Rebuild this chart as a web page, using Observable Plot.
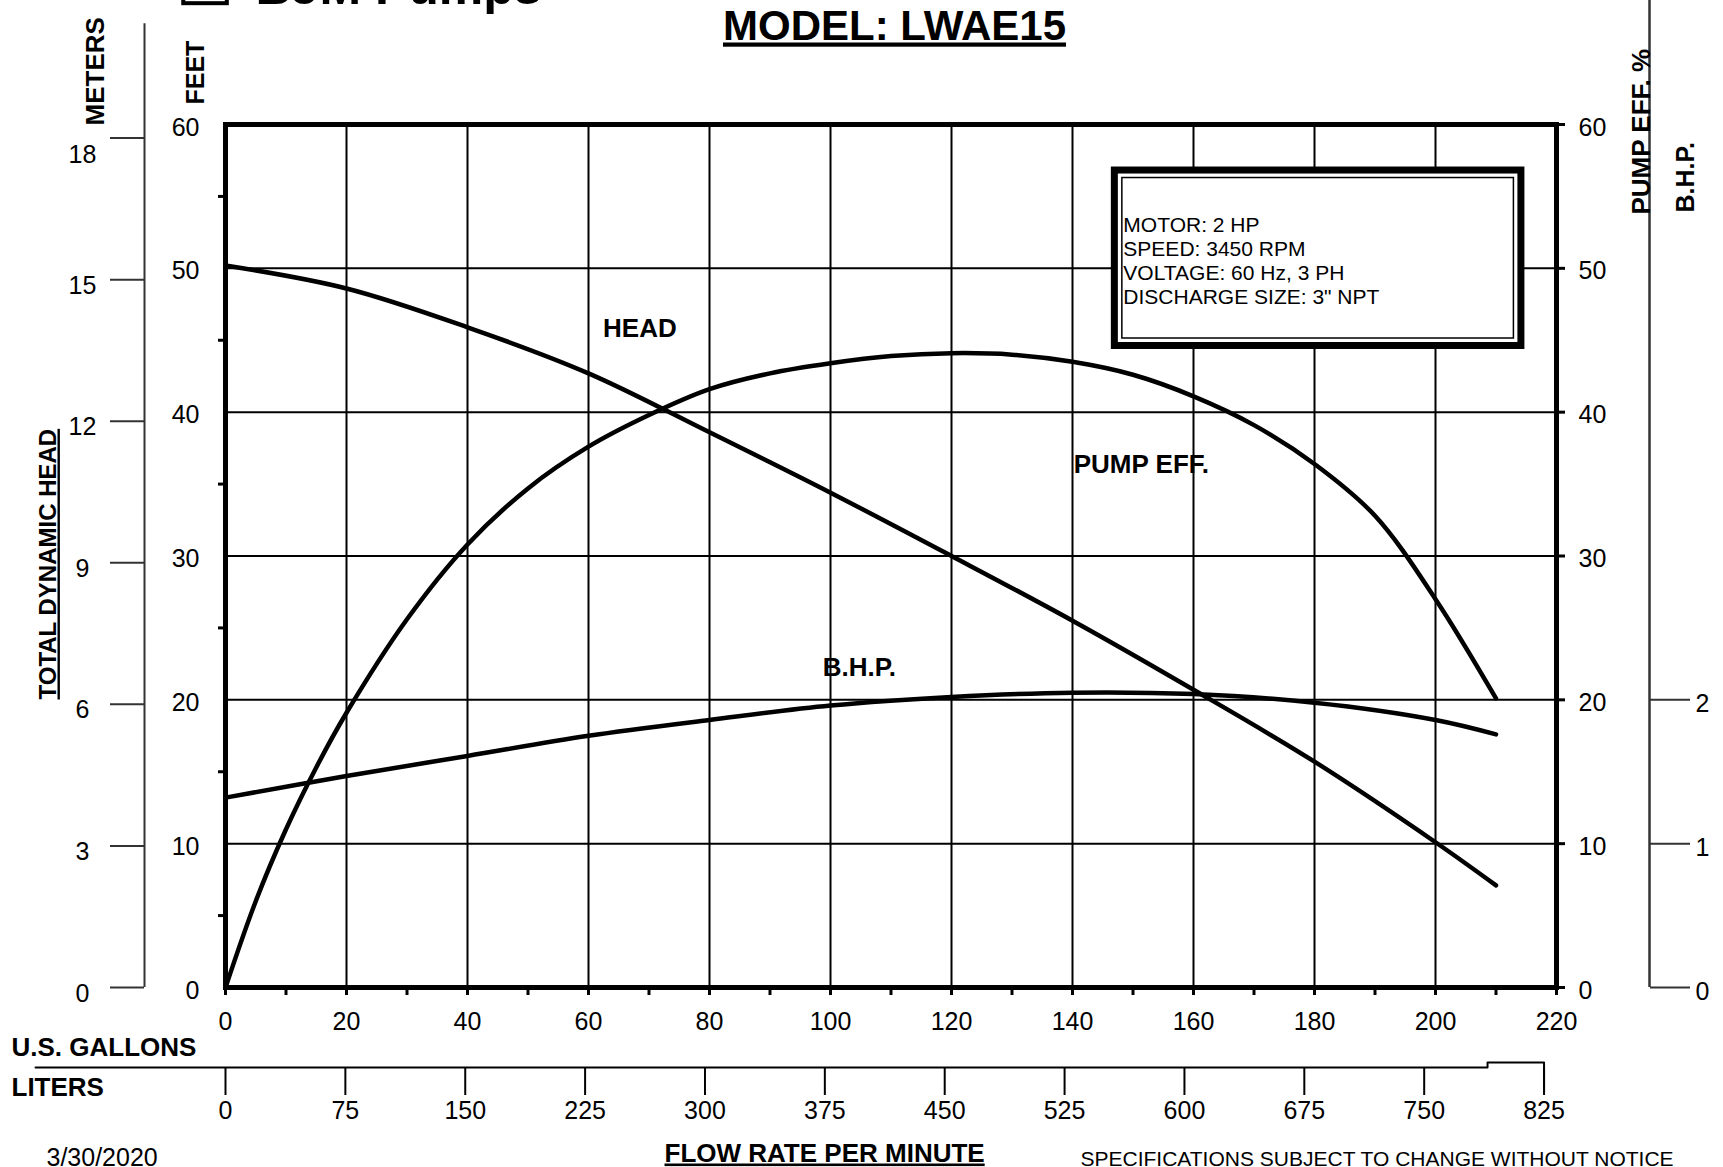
<!DOCTYPE html>
<html><head><meta charset="utf-8">
<script src="https://cdn.jsdelivr.net/npm/d3@7"></script>
<script src="https://cdn.jsdelivr.net/npm/@observablehq/plot@0.6"></script>
<style>
html,body{margin:0;padding:0;background:#fff;}
#chart svg{display:block;}
</style></head><body><div id="chart"></div>
<script>
// ---------- data ----------
const FT_PER_M = 3.28084;
const L_PER_GAL = 3.78541;

const xTicks = [0, 20, 40, 60, 80, 100, 120, 140, 160, 180, 200, 220];
const xMinorTicks = [0, 10, 20, 30, 40, 50, 60, 70, 80, 90, 100, 110, 120, 130, 140, 150, 160, 170, 180, 190, 200, 210, 220];
const yTicks = [0, 10, 20, 30, 40, 50, 60];
const yMinorTicks = [5, 15, 25, 35, 45, 55];
const meterTicks = [0, 3, 6, 9, 12, 15, 18];
const literTicks = [0, 75, 150, 225, 300, 375, 450, 525, 600, 675, 750, 825];
const bhpTicks = [0, 1, 2];
const gridXValues = [20, 40, 60, 80, 100, 120, 140, 160, 180, 200];
const gridYValues = [10, 20, 30, 40, 50];

// HEAD (feet) vs flow (US gpm)
const headFlow = [0, 20, 40, 60, 80, 100, 120, 140, 160, 180, 200, 210];
const headFeet = [50.2, 48.6, 45.9, 42.7, 38.6, 34.4, 30.0, 25.5, 20.7, 15.7, 10.1, 7.1];

// PUMP EFF. (%) vs flow
const effFlow = [0, 5, 10, 15, 20, 30, 40, 50, 60, 70, 80, 90, 100, 110, 120, 130, 140, 150, 160, 170, 180, 190, 200, 210];
const effPct  = [0, 6.0, 11.0, 15.3, 19.1, 25.6, 30.8, 34.7, 37.6, 39.8, 41.6, 42.7, 43.4, 43.9, 44.1, 44.0, 43.5, 42.6, 41.1, 39.1, 36.4, 32.8, 27.0, 20.1];

// B.H.P. (hp) vs flow
const bhpFlow = [0, 20, 40, 60, 80, 100, 120, 140, 160, 180, 200, 210];
const bhpHp   = [1.32, 1.47, 1.61, 1.75, 1.86, 1.96, 2.02, 2.05, 2.04, 1.98, 1.86, 1.76];

const infoLines = ["MOTOR: 2 HP", "SPEED: 3450 RPM", "VOLTAGE: 60 Hz, 3 PH", "DISCHARGE SIZE: 3\" NPT"];

const head = headFlow.map((x, i) => ({x, y: headFeet[i]}));
const eff = effFlow.map((x, i) => ({x, y: effPct[i]}));
const bhp = bhpFlow.map((x, i) => ({x, y: bhpHp[i] * 10}));

// ---------- annotation geometry ----------
const BHP_PER_UNIT = 10;
const literBracket = [
  {x: -31.4, y: -5.56}, {x: 208.6, y: -5.56}, {x: 208.6, y: -5.21},
  {x: 825 / L_PER_GAL, y: -5.21}, {x: 825 / L_PER_GAL, y: -7.3}
];

const noLabel = () => "";
const F = 25;

const chart = Plot.plot({
  width: 1723,
  height: 1167,
  marginLeft: 225,
  marginRight: 167,
  marginTop: 124,
  marginBottom: 180,
  style: {fontFamily: "'Liberation Sans', Arial, sans-serif", background: "white", color: "black", overflow: "visible"},
  x: {domain: [0, 220], label: null},
  y: {domain: [0, 60], label: null},
  marks: [
    // grid
    Plot.ruleX(gridXValues, {stroke: "black", strokeWidth: 2}),
    Plot.ruleY(gridYValues, {stroke: "black", strokeWidth: 2}),
    // info box (covers grid)
    Plot.rect([0], {x1: 147.0, x2: 214.2, y1: 44.6, y2: 56.8, fill: "white", stroke: "black", strokeWidth: 7}),
    Plot.rect([0], {x1: 147.0, x2: 214.2, y1: 44.6, y2: 56.8, fill: "none", stroke: "black", strokeWidth: 1.5, inset: 7.5}),
    Plot.text([infoLines.join("\n")], {x: 147.0, y: 56.8, dx: 8.5, dy: 44, textAnchor: "start", lineAnchor: "top", lineHeight: 1.143, fontSize: 21}),
    // frame
    Plot.frame({stroke: "black", strokeWidth: 5}),
    // curves
    Plot.line(head, {x: "x", y: "y", curve: "catmull-rom", stroke: "black", strokeWidth: 4.5}),
    Plot.line(eff, {x: "x", y: "y", curve: "catmull-rom", stroke: "black", strokeWidth: 4.5}),
    Plot.line(bhp, {x: "x", y: "y", curve: "catmull-rom", stroke: "black", strokeWidth: 4.5}),
    // curve labels
    Plot.text(["HEAD"], {x: 62.4, y: 45.25, textAnchor: "start", lineAnchor: "bottom", fontSize: 26, fontWeight: "bold"}),
    Plot.text(["PUMP EFF."], {x: 140.2, y: 35.77, textAnchor: "start", lineAnchor: "bottom", fontSize: 26, fontWeight: "bold"}),
    Plot.text(["B.H.P."], {x: 98.7, y: 21.63, textAnchor: "start", lineAnchor: "bottom", fontSize: 26, fontWeight: "bold"}),

    // left FEET axis
    Plot.axisY(yMinorTicks, {anchor: "left", tickSize: 7, strokeWidth: 3, tickFormat: noLabel, label: null}),
    Plot.text(yTicks, {y: d => d, text: d => String(d), frameAnchor: "left", dx: -26, dy: 3, textAnchor: "end", fontSize: F}),
    // METERS axis
    Plot.ruleX([0], {y1: 0, y2: 67, dx: -81, stroke: "#333", strokeWidth: 2}),
    Plot.axisY(meterTicks.map(m => m * FT_PER_M), {anchor: "left", dx: -81, tickSize: 34, stroke: "#333", strokeWidth: 2, tickFormat: noLabel, label: null}),
    Plot.text(meterTicks.filter(m => m < 18), {y: m => m * FT_PER_M, text: m => String(m), frameAnchor: "left", dx: -143, dy: 6, textAnchor: "middle", fontSize: F}),
    Plot.text(meterTicks.filter(m => m === 18), {y: m => m * FT_PER_M, text: m => String(m), frameAnchor: "left", dx: -143, dy: 17, textAnchor: "middle", fontSize: F}),
    // right PUMP EFF axis
    Plot.axisY(yTicks, {anchor: "right", tickSize: 8, strokeWidth: 3, tickFormat: noLabel, label: null}),
    Plot.text(yTicks, {y: d => d, text: d => String(d), frameAnchor: "right", dx: 22, dy: 3, textAnchor: "start", fontSize: F}),
    // B.H.P. axis
    Plot.ruleX([220], {y1: 0, y2: 68.7, dx: 93, stroke: "#333", strokeWidth: 2.5}),
    Plot.axisY(bhpTicks.map(h => h * BHP_PER_UNIT), {anchor: "right", dx: 93, tickSize: 40, stroke: "#333", strokeWidth: 2, tickFormat: noLabel, label: null}),
    Plot.text(bhpTicks, {y: h => h * BHP_PER_UNIT, text: h => String(h), frameAnchor: "right", dx: 139, dy: 4, textAnchor: "start", fontSize: F}),
    // bottom gallons axis
    Plot.axisX(xMinorTicks, {anchor: "bottom", tickSize: 8, strokeWidth: 3, tickFormat: noLabel, label: null}),
    Plot.text(xTicks, {x: d => d, text: d => String(d), frameAnchor: "bottom", dy: 42, fontSize: F}),
    // liters axis
    Plot.line(literBracket, {x: "x", y: "y", stroke: "black", strokeWidth: 2}),
    Plot.axisX(literTicks.map(l => l / L_PER_GAL), {anchor: "bottom", dy: 80, tickSize: 28, strokeWidth: 2, tickFormat: noLabel, label: null}),
    Plot.text(literTicks, {x: l => l / L_PER_GAL, text: l => String(l), frameAnchor: "bottom", dy: 131, fontSize: F}),

    // logo, titles and axis names
    Plot.rect([0], {x1: -6.9, x2: 0.3, y1: 68.4, y2: 71, fill: "none", stroke: "black", strokeWidth: 4}),
    Plot.text(["BJM Pumps"], {frameAnchor: "top-left", dx: 30, dy: -121, textAnchor: "start", lineAnchor: "bottom", fontSize: 50, fontWeight: "bold"}),
    Plot.text(["MODEL: LWAE15"], {frameAnchor: "top-left", dx: 669, dy: -85, textAnchor: "middle", lineAnchor: "bottom", fontSize: 42, fontWeight: "bold"}),
    Plot.text(["METERS"], {frameAnchor: "top-left", dx: -122, dy: 1, rotate: -90, textAnchor: "start", lineAnchor: "bottom", fontSize: 26, fontWeight: "bold"}),
    Plot.text(["FEET"], {frameAnchor: "top-left", dx: -22, dy: -20, rotate: -90, textAnchor: "start", lineAnchor: "bottom", fontSize: 25, fontWeight: "bold"}),
    Plot.text(["TOTAL DYNAMIC HEAD"], {frameAnchor: "top-left", dx: -170, dy: 575, rotate: -90, textAnchor: "start", lineAnchor: "bottom", fontSize: 24, fontWeight: "bold"}),
    Plot.text(["PUMP EFF. %"], {frameAnchor: "top-right", dx: 93, dy: 90, rotate: -90, textAnchor: "start", lineAnchor: "bottom", fontSize: 26, fontWeight: "bold"}),
    Plot.text(["B.H.P."], {frameAnchor: "top-right", dx: 137, dy: 88, rotate: -90, textAnchor: "start", lineAnchor: "bottom", fontSize: 25, fontWeight: "bold"}),
    Plot.text(["U.S. GALLONS"], {frameAnchor: "bottom-left", dx: -214, dy: 68, textAnchor: "start", lineAnchor: "bottom", fontSize: 26, fontWeight: "bold"}),
    Plot.text(["LITERS"], {frameAnchor: "bottom-left", dx: -214, dy: 108, textAnchor: "start", lineAnchor: "bottom", fontSize: 26, fontWeight: "bold"}),
    Plot.text(["3/30/2020"], {frameAnchor: "bottom-left", dx: -179, dy: 178, textAnchor: "start", lineAnchor: "bottom", fontSize: 25}),
    Plot.text(["FLOW RATE PER MINUTE"], {frameAnchor: "bottom-left", dx: 439, dy: 174, textAnchor: "start", lineAnchor: "bottom", fontSize: 26, fontWeight: "bold"}),
    Plot.text(["SPECIFICATIONS SUBJECT TO CHANGE WITHOUT NOTICE"], {frameAnchor: "bottom-left", dx: 855, dy: 178, textAnchor: "start", lineAnchor: "bottom", fontSize: 21})
  ]
});

// underline titles
const underlined = new Set(["MODEL: LWAE15", "TOTAL DYNAMIC HEAD", "FLOW RATE PER MINUTE"]);
chart.querySelectorAll("text").forEach(t => {
  if (underlined.has(t.textContent.trim())) t.style.textDecoration = "underline";
});
document.getElementById("chart").appendChild(chart);
</script></body></html>
